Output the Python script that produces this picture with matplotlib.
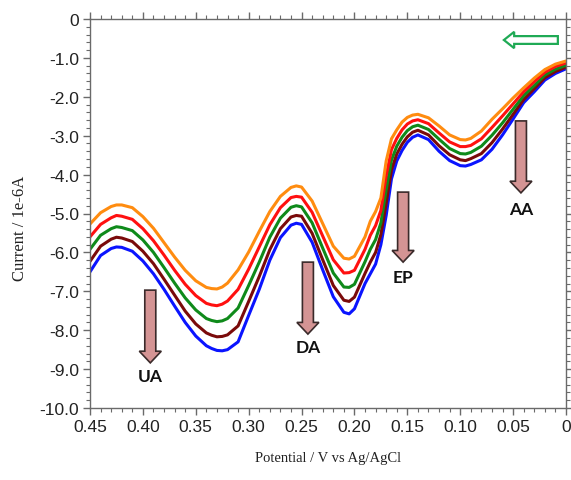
import matplotlib
matplotlib.use("Agg")
import matplotlib.pyplot as plt
from matplotlib.patches import Polygon
from matplotlib.ticker import MultipleLocator, FixedLocator

potential = [0.45, 0.44, 0.43, 0.425, 0.42, 0.41, 0.40, 0.39, 0.38, 0.37, 0.36, 0.35, 0.34, 0.335,
             0.33, 0.325, 0.32, 0.31, 0.30, 0.29, 0.28, 0.27, 0.26, 0.255, 0.25, 0.24, 0.23, 0.22,
             0.21, 0.205, 0.20, 0.19, 0.185, 0.18, 0.175, 0.17, 0.165, 0.16, 0.155, 0.15, 0.145,
             0.14, 0.13, 0.12, 0.11, 0.10, 0.095, 0.09, 0.08, 0.07, 0.06, 0.05, 0.04, 0.03, 0.02,
             0.01, 0.00]

current_orange = [-5.27, -4.98, -4.82, -4.78, -4.78, -4.85, -5.08, -5.38, -5.75, -6.12, -6.46, -6.73, -6.90, -6.93,
                  -6.94, -6.89, -6.79, -6.45, -5.99, -5.46, -4.95, -4.56, -4.33, -4.29, -4.32, -4.68, -5.26, -5.84,
                  -6.15, -6.17, -6.10, -5.60, -5.20, -4.95, -4.60, -3.65, -3.08, -2.85, -2.65, -2.53, -2.47,
                  -2.45, -2.54, -2.75, -2.98, -3.10, -3.11, -3.07, -2.88, -2.58, -2.31, -2.03, -1.77, -1.52, -1.30,
                  -1.16, -1.08]
current_red = [-5.60, -5.28, -5.11, -5.05, -5.07, -5.15, -5.39, -5.70, -6.07, -6.46, -6.82, -7.11, -7.31, -7.35,
               -7.37, -7.33, -7.25, -6.95, -6.43, -5.86, -5.29, -4.85, -4.59, -4.56, -4.58, -4.97, -5.58, -6.19,
               -6.53, -6.52, -6.46, -5.92, -5.56, -5.31, -4.92, -4.03, -3.36, -3.07, -2.85, -2.70, -2.62,
               -2.59, -2.69, -2.93, -3.16, -3.28, -3.28, -3.25, -3.08, -2.79, -2.49, -2.18, -1.87, -1.61, -1.37,
               -1.22, -1.13]
current_green = [-5.92, -5.56, -5.39, -5.34, -5.36, -5.44, -5.68, -6.00, -6.39, -6.79, -7.17, -7.48, -7.70, -7.75,
                 -7.78, -7.76, -7.70, -7.43, -6.85, -6.25, -5.61, -5.12, -4.84, -4.80, -4.83, -5.24, -5.89, -6.53,
                 -6.89, -6.90, -6.82, -6.24, -5.92, -5.67, -5.24, -4.39, -3.63, -3.27, -3.04, -2.87, -2.77,
                 -2.73, -2.84, -3.09, -3.33, -3.46, -3.47, -3.43, -3.27, -2.99, -2.67, -2.32, -1.97, -1.71, -1.44,
                 -1.29, -1.19]
current_brown = [-6.23, -5.84, -5.66, -5.61, -5.63, -5.72, -5.97, -6.29, -6.69, -7.10, -7.51, -7.84, -8.07, -8.13,
                 -8.17, -8.16, -8.12, -7.89, -7.26, -6.62, -5.93, -5.39, -5.09, -5.05, -5.07, -5.51, -6.19, -6.85,
                 -7.23, -7.26, -7.15, -6.54, -6.25, -6.00, -5.54, -4.74, -3.88, -3.47, -3.22, -3.03, -2.91,
                 -2.86, -2.98, -3.26, -3.49, -3.62, -3.64, -3.59, -3.46, -3.18, -2.83, -2.45, -2.07, -1.79, -1.51,
                 -1.35, -1.24]
current_blue = [-6.50, -6.08, -5.90, -5.86, -5.87, -5.97, -6.22, -6.55, -6.95, -7.38, -7.80, -8.15, -8.40, -8.47,
                -8.52, -8.53, -8.50, -8.30, -7.62, -6.95, -6.20, -5.62, -5.30, -5.25, -5.28, -5.74, -6.45, -7.14,
                -7.54, -7.58, -7.45, -6.80, -6.55, -6.30, -5.80, -5.05, -4.11, -3.65, -3.38, -3.17, -3.04,
                -2.98, -3.10, -3.40, -3.64, -3.77, -3.78, -3.74, -3.62, -3.35, -2.98, -2.57, -2.15, -1.87, -1.57,
                -1.40, -1.28]

series = [current_blue, current_brown, current_green, current_red, current_orange]
colors = ["#0a14ff", "#7a0a0a", "#0f8a1a", "#ff1010", "#ff8c10"]

x_ticks = [0.45, 0.40, 0.35, 0.30, 0.25, 0.20, 0.15, 0.10, 0.05, 0.00]
x_ticklabels = ["0.45", "0.40", "0.35", "0.30", "0.25", "0.20", "0.15", "0.10", "0.05", "0"]
y_ticks = [0, -1, -2, -3, -4, -5, -6, -7, -8, -9, -10]
y_ticklabels = ["0", "-1.0", "-2.0", "-3.0", "-4.0", "-5.0", "-6.0", "-7.0", "-8.0", "-9.0", "-10.0"]

peak_labels = ["UA", "DA", "EP", "AA"]
arrow_x = [0.393, 0.244, 0.154, 0.0426]
arrow_top = [-6.97, -6.25, -4.45, -2.62]
arrow_tip = [-8.84, -8.10, -6.25, -4.47]
label_y = [-9.18, -8.43, -6.63, -4.88]

fig = plt.figure(figsize=(5.71, 4.81), dpi=100)
ax = fig.add_axes([90/571, 1-409/481, 476/571, 389/481])

for vals, c in zip(series, colors):
    ax.plot(potential, vals, color=c, lw=2.2, solid_capstyle="round", solid_joinstyle="round")

ax.set_xlim(0.45, 0.0)
ax.set_ylim(-10, 0)
ax.set_xticks(x_ticks)
ax.set_xticklabels(x_ticklabels)
ax.xaxis.set_minor_locator(MultipleLocator(0.01))
ax.set_yticks(y_ticks)
ax.set_yticklabels(y_ticklabels)
ax.yaxis.set_minor_locator(MultipleLocator(0.2))

spine_col = "#6a6a6a"
for s in ax.spines.values():
    s.set_color(spine_col)
    s.set_linewidth(1.0)
ax.tick_params(which="both", direction="out", top=True, right=True, color=spine_col)
ax.tick_params(which="major", length=5, width=1.0, pad=3)
ax.tick_params(which="minor", length=3, width=0.8)
ax.tick_params(labeltop=False, labelright=False)
tick_font = ["Liberation Sans Narrow", "Liberation Sans", "DejaVu Sans"]
for lab in ax.get_xticklabels() + ax.get_yticklabels():
    lab.set_fontfamily(tick_font)
    lab.set_fontsize(12.5)
    lab.set_color("#222222")

# down arrows for each analyte
sx_half = 0.0052
hx_half = 0.0104
head_len = 0.30
for xc, yt, yp, lab, ly in zip(arrow_x, arrow_top, arrow_tip, peak_labels, label_y):
    yb = yp + head_len
    verts = [(xc - sx_half, yt), (xc + sx_half, yt), (xc + sx_half, yb), (xc + hx_half, yb),
             (xc, yp), (xc - hx_half, yb), (xc - sx_half, yb)]
    ax.add_patch(Polygon(verts, closed=True, facecolor="#d49494", edgecolor="#3a2a2a", lw=1.2, zorder=5))
    ax.text(xc, ly, lab, ha="center", va="center", fontsize=12.5, fontweight="bold",
            family=["Lato", "DejaVu Sans"], color="#111111", zorder=6)

# hollow green scan-direction arrow
gy = -0.54
g_tip, g_head, g_tail = 0.0587, 0.049, 0.0077
g_sh, g_hh = 0.10, 0.21
gverts = [(g_tip, gy), (g_head, gy + g_hh), (g_head, gy + g_sh), (g_tail, gy + g_sh),
          (g_tail, gy - g_sh), (g_head, gy - g_sh), (g_head, gy - g_hh)]
ax.add_patch(Polygon(gverts, closed=True, facecolor="white", edgecolor="#1faa55", lw=1.6, zorder=5))

fig.text(328/571, 1-459/481, "Potential / V vs Ag/AgCl", ha="center", va="center",
         fontsize=10.5, family=["Liberation Serif", "DejaVu Serif"], color="#222222")
fig.text(20/571, 1-228/481, "Current / 1e-6A", ha="center", va="center", rotation=90,
         fontsize=12, family=["Liberation Serif", "DejaVu Serif"], color="#222222")

fig.savefig("out.png", dpi=100)
